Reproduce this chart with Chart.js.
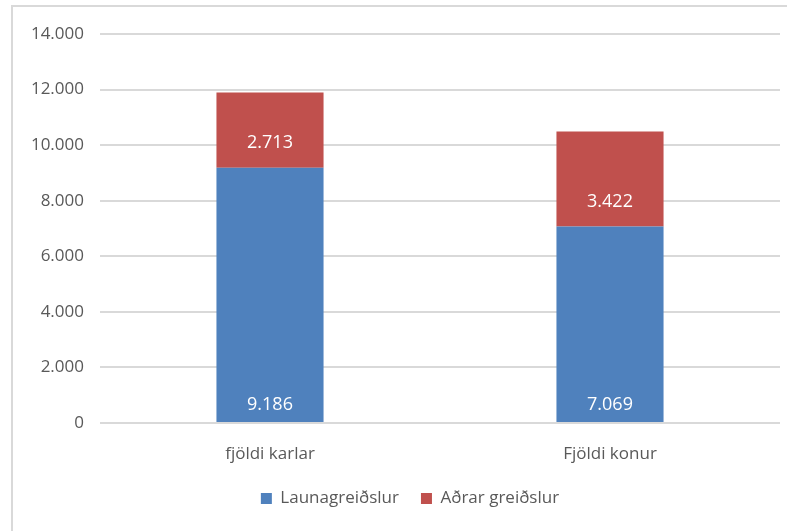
<!DOCTYPE html>
<html>
<head>
<meta charset="utf-8">
<script src="https://cdn.jsdelivr.net/npm/chart.js@4"></script>
<style>
  html, body { margin: 0; padding: 0; background: #fff; }
  #wrap { position: relative; width: 787px; height: 531px; overflow: hidden; }
  #frame { position: absolute; left: 11px; top: 5px; width: 800px; height: 600px;
           border-left: 2px solid #d9d9d9; border-top: 2px solid #d9d9d9; }
  #chart { position: absolute; left: 0; top: 0; }
</style>
</head>
<body>
<div id="wrap">
  <div id="frame"></div>
  <canvas id="chart" width="787" height="531"></canvas>
</div>
<script>
/* stacked bars: payments by gender */

const categories = ['fjöldi karlar', 'Fjöldi konur'];
const seriesNames = ['Launagreiðslur', 'Aðrar greiðslur'];
const launagreidslur = [9186, 7069];
const adrarGreidslur = [2713, 3422];
const yTicks = [0, 2000, 4000, 6000, 8000, 10000, 12000, 14000];

const FONT = '"Open Sans", "Noto Sans", sans-serif';
const TEXT = '#595959';

const fmt = v => String(v).replace(/\B(?=(\d{3})+(?!\d))/g, '.');

// white value labels inside each segment, measured up from the segment base
const barLabels = {
  id: 'barLabels',
  afterDatasetsDraw(chart) {
    const ctx = chart.ctx;
    ctx.save();
    ctx.fillStyle = '#fff';
    ctx.font = '18px ' + FONT;
    ctx.textAlign = 'center';
    ctx.textBaseline = 'middle';
    chart.data.datasets.forEach((ds, i) => {
      chart.getDatasetMeta(i).data.forEach((bar, j) => {
        ctx.fillText(fmt(ds.data[j]), bar.x, bar.base - ds.labelOffset);
      });
    });
    ctx.restore();
  }
};

// nudge the legend a bit right, like the original
const legendShift = {
  id: 'legendShift',
  afterLayout(chart) {
    if (!chart.legend) return;
    chart.legend.left += 20;
    chart.legend.right += 20;
  }
};

new Chart(document.getElementById('chart'), {
  type: 'bar',
  data: {
    labels: categories,
    datasets: [{
      label: seriesNames[0],
      data: launagreidslur,
      backgroundColor: '#4F81BD',
      labelOffset: 17,
    }, {
      label: seriesNames[1],
      data: adrarGreidslur,
      backgroundColor: '#C0504D',
      labelOffset: 25,
    }],
  },
  options: {
    responsive: false,
    animation: false,
    devicePixelRatio: 1,
    categoryPercentage: 1,
    barPercentage: 0.315,
    layout: { padding: { top: 34, right: 7, left: 0, bottom: 14 } },
    scales: {
      x: {
        stacked: true,
        grid: { display: false },
        border: { display: false },
        ticks: { color: TEXT, font: { size: 17, family: FONT }, padding: 13 },
        afterFit: s => { s.height = 45; },
      },
      y: {
        stacked: true,
        min: 0, max: 14000,
        afterBuildTicks: s => { s.ticks = yTicks.map(v => ({ value: v })); },
        grid: { color: '#d9d9d9', lineWidth: 2, drawTicks: false },
        border: { display: false },
        ticks: { color: TEXT, font: { size: 17, family: FONT }, padding: 16, callback: v => fmt(v) },
        afterFit: s => { s.width = 100; },
      },
    },
    plugins: {
      legend: {
        position: 'bottom',
        labels: { color: TEXT, font: { size: 17, family: FONT }, boxWidth: 11, boxHeight: 11, padding: 22 },
      },
      tooltip: { enabled: false },
    },
  },
  plugins: [barLabels, legendShift],
});
</script>
</body>
</html>
